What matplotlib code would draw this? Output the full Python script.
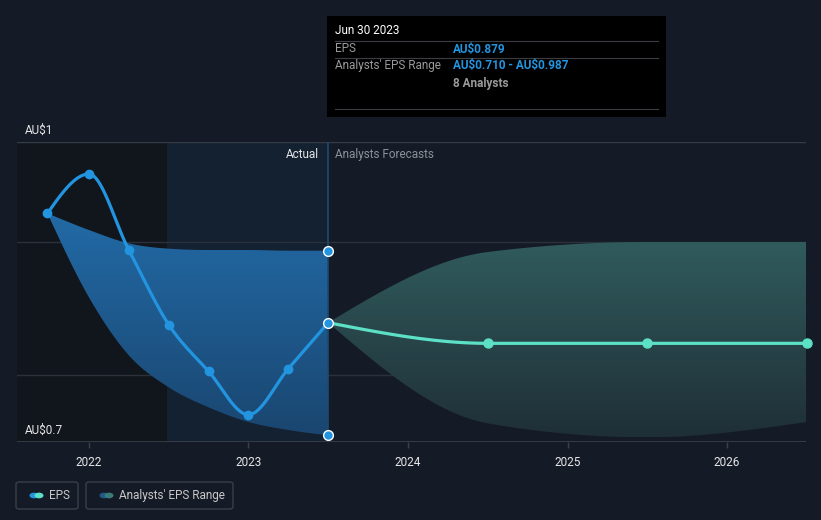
import numpy as np
import matplotlib
matplotlib.use('Agg')
import matplotlib.pyplot as plt
from matplotlib.patches import Rectangle, FancyBboxPatch, Polygon, Circle
from matplotlib.colors import LinearSegmentedColormap

plt.rcParams['font.family'] = ['Roboto', 'DejaVu Sans']

# data
past_dates = [2021.74, 2022.0, 2022.25, 2022.5, 2022.75, 2023.0, 2023.25, 2023.5]
past_eps = [1.043, 1.102, 0.988, 0.876, 0.806, 0.741, 0.810, 0.879]
past_upper = [1.043, 1.018, 0.998, 0.990, 0.988, 0.988, 0.987, 0.987]
past_lower = [1.043, 0.917, 0.830, 0.782, 0.752, 0.730, 0.718, 0.710]

fc_dates = [2023.5, 2024.5, 2025.5, 2026.5]
fc_eps = [0.879, 0.848, 0.848, 0.848]
fc_upper = [0.879, 0.985, 1.0, 1.0]
fc_lower = [0.879, 0.728, 0.707, 0.730]

years = [2022, 2023, 2024, 2025, 2026]
year_labels = ['2022', '2023', '2024', '2025', '2026']

BG = '#151b26'
W, H = 821, 520


def monotone(x, y, n=40):
    # d3 curveMonotoneX style smoothing
    x = np.asarray(x, float)
    y = np.asarray(y, float)
    h = np.diff(x)
    s = np.diff(y) / h
    t = np.zeros(len(x))
    for i in range(1, len(x) - 1):
        p = (s[i - 1] * h[i] + s[i] * h[i - 1]) / (h[i - 1] + h[i])
        t[i] = (np.sign(s[i - 1]) + np.sign(s[i])) * min(abs(s[i - 1]), abs(s[i]), 0.5 * abs(p))
    t[0] = (3 * s[0] - t[1]) / 2
    t[-1] = (3 * s[-1] - t[-2]) / 2
    xs, ys = [], []
    for i in range(len(x) - 1):
        u = np.linspace(0, 1, n)
        h00 = 2 * u**3 - 3 * u**2 + 1
        h10 = u**3 - 2 * u**2 + u
        h01 = -2 * u**3 + 3 * u**2
        h11 = u**3 - u**2
        xs.append(x[i] + u * h[i])
        ys.append(h00 * y[i] + h10 * h[i] * t[i] + h01 * y[i + 1] + h11 * h[i] * t[i + 1])
    return np.concatenate(xs), np.concatenate(ys)


def px(x, y):
    return x / W, 1 - y / H


def gradient_fill(ax, xs, lo, hi, c_top, c_bot, z):
    verts = np.vstack([np.column_stack([xs, hi]), np.column_stack([xs[::-1], lo[::-1]])])
    poly = Polygon(verts, closed=True, facecolor='none', edgecolor='none')
    ax.add_patch(poly)
    cmap = LinearSegmentedColormap.from_list('g', [c_bot, c_top])
    grad = np.linspace(0, 1, 256).reshape(-1, 1)
    im = ax.imshow(grad, cmap=cmap, origin='lower', aspect='auto',
                   extent=[xs.min(), xs.max(), min(lo.min(), hi.min()), max(lo.max(), hi.max())],
                   zorder=z, interpolation='bilinear')
    im.set_clip_path(poly)


fig = plt.figure(figsize=(W / 100, H / 100), dpi=100, facecolor=BG)
x0, x1 = 17, 806
y0, y1 = 142, 442
ax = fig.add_axes([x0 / W, 1 - y1 / H, (x1 - x0) / W, (y1 - y0) / H])
ax.set_facecolor(BG)
ax.set_xlim(2021.549, 2026.495)
ax.set_ylim(0.7, 1.15)

# shaded past regions
ax.axvspan(2021.549, 2022.49, color='#11151c', zorder=0, lw=0)
ax.axvspan(2022.49, 2023.5, color='#132131', zorder=0, lw=0)

# grid
for v in [0.8, 1.0]:
    ax.axhline(v, color='#2b303a', lw=1, zorder=1)
ax.axhline(1.15, color='#363b45', lw=1, zorder=1)
for s in ax.spines.values():
    s.set_visible(False)
ax.axhline(0.7, color='#3c414a', lw=1.2, zorder=5)

# bands
bx, bu = monotone(past_dates, past_upper)
_, bl = monotone(past_dates, past_lower)
gradient_fill(ax, bx, bl, bu, '#226aa6', '#1a4670', 2)

fx, fu = monotone(fc_dates, fc_upper)
_, fl = monotone(fc_dates, fc_lower)
gradient_fill(ax, fx, fl, fu, '#305b5c', '#1f2f37', 2)

# vertical marker line
ax.axvline(2023.5, color='#1c4a72', lw=1.2, zorder=3)

# lines
lx, ly = monotone(past_dates, past_eps)
ax.plot(lx, ly, color='#2394df', lw=2.3, zorder=4, solid_capstyle='round')
ax.plot(past_dates[:-1], past_eps[:-1], 'o', color='#2394df', ms=6, zorder=5)

gx, gy = monotone(fc_dates, fc_eps)
ax.plot(gx, gy, color='#5ce0c6', lw=2.3, zorder=4, solid_capstyle='round')
ax.plot(fc_dates[1:], fc_eps[1:], 'o', color='#5ce0c6', ms=6.5, zorder=5, clip_on=False)

ax.plot([2023.5] * 3, [past_upper[-1], past_eps[-1], past_lower[-1]], 'o',
        color='#2394df', mec='white', mew=1, ms=7, zorder=6, clip_on=False)

# axes ticks
ax.set_yticks([])
ax.set_xticks(years)
ax.set_xticklabels(year_labels)
ax.tick_params(axis='x', colors='#3c414a', length=4, width=1, pad=6, labelsize=8.5,
               labelcolor='#e6e6e6')

# y labels
fig.text(*px(25, 130), 'AU$1', color='#e6e6e6', fontsize=8.5, va='center', ha='left')
fig.text(*px(25, 430), 'AU$0.7', color='#e6e6e6', fontsize=8.5, va='center', ha='left')

fig.text(*px(319, 154), 'Actual', color='#e6e6e6', fontsize=8.5, va='center', ha='right')
fig.text(*px(335, 154), 'Analysts Forecasts', color='#8c9199', fontsize=8.5, va='center', ha='left')

# tooltip
fig.patches.append(Rectangle(px(327, 117), 339 / W, 101 / H, transform=fig.transFigure,
                             facecolor='#000000', edgecolor='none', zorder=10))
for yy in [41, 58, 109]:
    fig.add_artist(plt.Line2D([335 / W, 658 / W], [1 - yy / H] * 2, color='#3a3d42', lw=0.8,
                              transform=fig.transFigure, zorder=11))
fig.text(*px(335, 30), 'Jun 30 2023', color='#ffffff', fontsize=8.5, va='center', zorder=12)
fig.text(*px(335, 49), 'EPS', color='#9a9a9a', fontsize=8.5, va='center', zorder=12)
fig.text(*px(453, 49), 'AU$0.879', color='#2394df', fontsize=8.5, va='center',
         fontweight='bold', zorder=12)
fig.text(*px(335, 66), "Analysts' EPS Range", color='#9a9a9a', fontsize=8.5, va='center', zorder=12)
fig.text(*px(453, 66), r'AU\$0.710 - AU\$0.987', color='#2394df', fontsize=8.5, va='center',
         fontweight='bold', zorder=12)
fig.text(*px(453, 83), '8 Analysts', color='#9a9a9a', fontsize=8.5, va='center',
         fontweight='bold', zorder=12)

# legend
legend_items = [
    (16, 78, 'EPS', '#2394df', '#5ce0c6'),
    (86, 233, "Analysts' EPS Range", '#1f5a8a', '#3a7a78'),
]
for lx0, lx1, label, c1, c2 in legend_items:
    fig.patches.append(FancyBboxPatch(px(lx0, 509), (lx1 - lx0) / W, 27 / H,
                                      boxstyle='round,pad=0,rounding_size=0.004',
                                      transform=fig.transFigure, facecolor='none',
                                      edgecolor='#3a3f48', lw=1))
    for cx, col in [(lx0 + 18, c1), (lx0 + 23, c2)]:
        fig.patches.append(Circle(px(cx, 495.5), 4.5 / W, transform=fig.transFigure,
                                  facecolor=col, edgecolor='none'))
    fig.text(*px(lx0 + 33, 495.5), label, color='#c8c8c8', fontsize=8.5, va='center', ha='left')

fig.savefig('out.png', dpi=100, facecolor=BG)
